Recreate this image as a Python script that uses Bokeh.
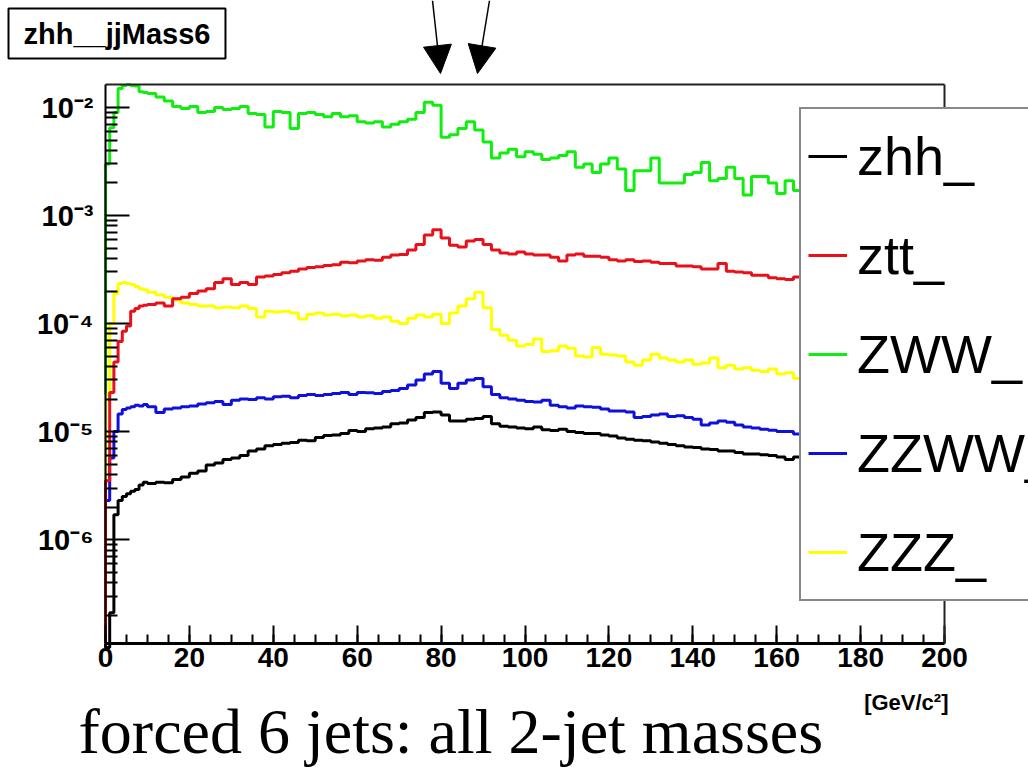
import math
from bokeh.plotting import figure
from bokeh.models import (Range1d, FixedTicker, SingleIntervalTicker, Legend, LegendItem,
                          Label, Arrow, NormalHead, LinearAxis, LogAxis)
from bokeh.embed import file_html
from bokeh.resources import INLINE

# ---------------- data ----------------
# bin edges [GeV/c^2]: 1 GeV bins up to 10, then 2 GeV bins up to 200
EDGES = list(range(0, 11)) + list(range(12, 201, 2))

series_names = ["zhh_", "ztt_", "ZWW_", "ZZWW_", "ZZZ_"]

zhh = [1.0e-7, 2.1e-7, 1.7e-6, 2.3e-6, 2.5e-6, 2.65e-6, 2.8e-6, 2.9e-6, 3.2e-6, 3.4e-6,
       3.3e-6, 3.4e-6, 3.35e-6, 3.6e-6, 3.8e-6, 4.1e-6, 4.3e-6, 4.9e-6, 5.1e-6, 5.5e-6,
       5.7e-6, 6.0e-6, 6.6e-6, 6.9e-6, 7.4e-6, 7.6e-6, 7.8e-6, 7.9e-6, 8.3e-6, 8.2e-6,
       8.8e-6, 9.2e-6, 9.3e-6, 9.6e-6, 1.02e-5, 1.0e-5, 1.06e-5, 1.08e-5, 1.1e-5, 1.18e-5,
       1.2e-5, 1.28e-5, 1.35e-5, 1.5e-5, 1.52e-5, 1.42e-5, 1.25e-5, 1.25e-5, 1.3e-5, 1.32e-5,
       1.38e-5, 1.18e-5, 1.12e-5, 1.1e-5, 1.08e-5, 1.06e-5, 1.1e-5, 1.04e-5, 1.02e-5, 1.05e-5,
       1.0e-5, 9.8e-6, 9.6e-6, 9.6e-6, 9.3e-6, 9.1e-6, 8.7e-6, 8.5e-6, 8.3e-6, 8.2e-6,
       8.0e-6, 7.8e-6, 7.6e-6, 7.4e-6, 7.2e-6, 7.1e-6, 6.9e-6, 6.8e-6, 6.6e-6, 6.6e-6,
       6.4e-6, 6.2e-6, 6.2e-6, 6.1e-6, 6.0e-6, 5.8e-6, 5.5e-6, 5.8e-6, 5.6e-6, 5.5e-6,
       5.4e-6, 5.2e-6, 5.1e-6, 5.0e-6, 4.9e-6, 4.8e-6, 4.6e-6, 4.5e-6, 4.4e-6, 4.3e-6,
       4.2e-6, 4.1e-6, 4.0e-6, 3.9e-6, 3.8e-6]

ztt = [3.5e-6, 2.3e-5, 4.4e-5, 6.8e-5, 8.5e-5, 9.5e-5, 1.3e-4, 1.38e-4, 1.45e-4, 1.48e-4,
       1.5e-4, 1.55e-4, 1.45e-4, 1.7e-4, 1.75e-4, 1.9e-4, 2.0e-4, 2.1e-4, 2.4e-4, 2.6e-4,
       2.3e-4, 2.4e-4, 2.3e-4, 2.7e-4, 2.75e-4, 2.85e-4, 2.95e-4, 3.05e-4, 3.2e-4, 3.3e-4,
       3.35e-4, 3.45e-4, 3.5e-4, 3.7e-4, 3.65e-4, 3.8e-4, 3.9e-4, 3.85e-4, 4.1e-4, 4.3e-4,
       4.35e-4, 4.8e-4, 5.4e-4, 6.6e-4, 7.4e-4, 6.2e-4, 5.3e-4, 5.1e-4, 5.8e-4, 6.0e-4,
       5.4e-4, 4.8e-4, 4.5e-4, 4.4e-4, 4.6e-4, 4.4e-4, 4.3e-4, 4.3e-4, 4.1e-4, 3.8e-4,
       4.3e-4, 4.4e-4, 4.2e-4, 4.2e-4, 4.1e-4, 3.9e-4, 3.8e-4, 3.9e-4, 3.75e-4, 3.8e-4,
       3.7e-4, 3.6e-4, 3.6e-4, 3.4e-4, 3.4e-4, 3.35e-4, 3.2e-4, 3.2e-4, 3.6e-4, 3.05e-4,
       3.0e-4, 2.95e-4, 2.8e-4, 2.8e-4, 2.65e-4, 2.6e-4, 2.55e-4, 2.7e-4, 2.6e-4, 2.5e-4,
       2.5e-4, 2.4e-4, 2.35e-4, 2.3e-4, 2.25e-4, 2.2e-4, 2.1e-4, 2.1e-4, 2.0e-4, 1.95e-4,
       1.9e-4, 1.85e-4, 1.8e-4, 1.75e-4, 1.7e-4]

zww = [3.0e-3, 6.5e-3, 9.0e-3, 1.5e-2, 1.6e-2, 1.62e-2, 1.6e-2, 1.58e-2, 1.4e-2, 1.38e-2,
       1.35e-2, 1.25e-2, 1.15e-2, 1.02e-2, 9.8e-3, 1.02e-2, 9.0e-3, 9.2e-3, 1.0e-2, 9.6e-3,
       9.8e-3, 1.02e-2, 8.8e-3, 8.6e-3, 6.6e-3, 9.2e-3, 9.0e-3, 6.4e-3, 8.8e-3, 9.0e-3,
       8.6e-3, 8.2e-3, 8.8e-3, 8.2e-3, 8.4e-3, 7.4e-3, 7.2e-3, 7.4e-3, 6.6e-3, 7.0e-3,
       7.4e-3, 7.8e-3, 9.0e-3, 1.12e-2, 1.05e-2, 5.3e-3, 5.6e-3, 6.4e-3, 7.4e-3, 6.2e-3,
       4.8e-3, 3.4e-3, 3.8e-3, 4.1e-3, 3.5e-3, 3.9e-3, 3.7e-3, 3.3e-3, 3.4e-3, 3.6e-3,
       3.9e-3, 2.8e-3, 3.0e-3, 2.5e-3, 3.0e-3, 3.4e-3, 2.7e-3, 1.7e-3, 2.6e-3, 2.6e-3,
       3.4e-3, 2.0e-3, 2.0e-3, 2.0e-3, 2.4e-3, 2.5e-3, 3.1e-3, 2.1e-3, 2.2e-3, 2.8e-3,
       2.2e-3, 1.55e-3, 2.3e-3, 2.3e-3, 2.0e-3, 1.6e-3, 2.1e-3, 1.7e-3, 1.9e-3, 1.7e-3,
       2.0e-3, 1.6e-3, 1.8e-3, 1.5e-3, 1.7e-3, 1.6e-3, 1.4e-3, 1.6e-3, 1.5e-3, 1.3e-3,
       1.4e-3, 1.3e-3, 1.2e-3, 1.3e-3, 1.2e-3]

zzww = [2.3e-6, 5.7e-6, 1.0e-5, 1.45e-5, 1.6e-5, 1.65e-5, 1.7e-5, 1.75e-5, 1.72e-5, 1.78e-5,
        1.7e-5, 1.5e-5, 1.62e-5, 1.65e-5, 1.7e-5, 1.72e-5, 1.8e-5, 1.85e-5, 1.9e-5, 1.78e-5,
        1.95e-5, 2.0e-5, 1.98e-5, 2.05e-5, 2.0e-5, 2.1e-5, 2.12e-5, 2.05e-5, 2.15e-5, 2.2e-5,
        2.15e-5, 2.2e-5, 2.25e-5, 2.3e-5, 2.2e-5, 2.3e-5, 2.28e-5, 2.25e-5, 2.35e-5, 2.4e-5,
        2.5e-5, 2.7e-5, 3.0e-5, 3.4e-5, 3.6e-5, 2.8e-5, 2.5e-5, 2.8e-5, 3.0e-5, 3.1e-5,
        2.6e-5, 2.2e-5, 2.05e-5, 2.0e-5, 1.95e-5, 1.9e-5, 1.88e-5, 1.95e-5, 1.75e-5, 1.7e-5,
        1.65e-5, 1.72e-5, 1.7e-5, 1.68e-5, 1.62e-5, 1.55e-5, 1.55e-5, 1.52e-5, 1.35e-5, 1.38e-5,
        1.42e-5, 1.45e-5, 1.38e-5, 1.4e-5, 1.35e-5, 1.3e-5, 1.15e-5, 1.2e-5, 1.25e-5, 1.22e-5,
        1.15e-5, 1.1e-5, 1.08e-5, 1.05e-5, 1.03e-5, 1.0e-5, 1.0e-5, 9.5e-6, 9.6e-6, 9.3e-6,
        9.1e-6, 8.9e-6, 8.6e-6, 8.4e-6, 8.2e-6, 8.0e-6, 7.8e-6, 7.6e-6, 7.4e-6, 7.2e-6,
        7.0e-6, 6.9e-6, 6.7e-6, 6.5e-6, 6.3e-6]

zzz = [2.2e-5, 1.0e-4, 1.9e-4, 2.35e-4, 2.4e-4, 2.35e-4, 2.3e-4, 2.2e-4, 2.1e-4, 2.05e-4,
       1.95e-4, 1.85e-4, 1.75e-4, 1.65e-4, 1.55e-4, 1.5e-4, 1.45e-4, 1.45e-4, 1.4e-4, 1.42e-4,
       1.4e-4, 1.45e-4, 1.38e-4, 1.15e-4, 1.3e-4, 1.28e-4, 1.3e-4, 1.25e-4, 1.1e-4, 1.22e-4,
       1.25e-4, 1.2e-4, 1.22e-4, 1.18e-4, 1.2e-4, 1.15e-4, 1.18e-4, 1.12e-4, 1.15e-4, 1.05e-4,
       1.0e-4, 1.12e-4, 1.2e-4, 1.15e-4, 1.22e-4, 1.0e-4, 1.25e-4, 1.45e-4, 1.7e-4, 1.95e-4,
       1.4e-4, 8.8e-5, 7.8e-5, 7.0e-5, 6.2e-5, 6.4e-5, 7.2e-5, 5.5e-5, 5.6e-5, 6.2e-5,
       5.9e-5, 5.0e-5, 4.9e-5, 6.0e-5, 5.2e-5, 5.1e-5, 5.0e-5, 4.4e-5, 4.1e-5, 4.6e-5,
       5.2e-5, 4.8e-5, 4.6e-5, 4.4e-5, 4.6e-5, 4.2e-5, 4.3e-5, 4.8e-5, 3.9e-5, 4.1e-5,
       3.8e-5, 3.9e-5, 3.7e-5, 3.6e-5, 3.8e-5, 3.4e-5, 3.5e-5, 3.1e-5, 3.2e-5, 3.1e-5,
       3.0e-5, 2.9e-5, 2.9e-5, 2.8e-5, 2.7e-5, 2.7e-5, 2.6e-5, 2.5e-5, 2.5e-5, 2.4e-5,
       2.3e-5, 2.3e-5, 2.2e-5, 2.1e-5, 2.1e-5]

X_MIN, X_MAX = 0, 200
X_TICK_INTERVAL = 20
Y_LO, Y_HI = 1.09e-7, 1.633e-2
Y_DECADES = [1e-6, 1e-5, 1e-4, 1e-3, 1e-2]
Y_LABELS = ["10\u207b\u2076", "10\u207b\u2075", "10\u207b\u2074", "10\u207b\u00b3", "10\u207b\u00b2"]

# ---------------- geometry ----------------
W, H = 1028, 771
BOX_L, BOX_R, BOX_T, BOX_B = 105, 944, 84, 643   # pixel extent of the histogram box
SANS = "Liberation Sans"

# the plotting area covers the whole window; the histogram box is drawn with
# axes fixed at the box edges, so the view ranges extend past the box
px_per_x = (BOX_R - BOX_L) / (X_MAX - X_MIN)
x_view = (X_MIN - BOX_L / px_per_x, X_MIN + (W - BOX_L) / px_per_x)
ly_lo, ly_hi = math.log10(Y_LO), math.log10(Y_HI)
px_per_dec = (BOX_B - BOX_T) / (ly_hi - ly_lo)
y_view = (10 ** (ly_lo - (H - BOX_B) / px_per_dec), 10 ** (ly_hi + BOX_T / px_per_dec))

p = figure(width=W, height=H, x_range=Range1d(*x_view), y_range=Range1d(*y_view),
           y_axis_type="log", output_backend="svg", toolbar_location=None,
           min_border=0, min_border_left=0, min_border_right=0,
           min_border_top=0, min_border_bottom=0)
p.background_fill_color = "white"
p.border_fill_color = "white"
p.xgrid.visible = False
p.ygrid.visible = False
p.outline_line_color = None

# main axes, pinned to the box edges
p.xaxis.fixed_location = Y_LO
p.xaxis.bounds = (X_MIN, X_MAX)
p.xaxis.ticker = SingleIntervalTicker(interval=X_TICK_INTERVAL, num_minor_ticks=4)
p.yaxis.fixed_location = X_MIN
p.yaxis.bounds = (Y_LO, Y_HI)
minor_y = [m * 10.0 ** e for e in range(-7, -1) for m in range(2, 10)]
minor_y = [v for v in minor_y if Y_LO <= v <= Y_HI]
p.yaxis.ticker = FixedTicker(ticks=Y_DECADES, minor_ticks=minor_y)
p.yaxis.major_label_overrides = {v: s for v, s in zip(Y_DECADES, Y_LABELS)}

for ax in (p.xaxis[0], p.yaxis[0]):
    ax.major_tick_out = 0
    ax.minor_tick_out = 0
    ax.major_tick_line_color = "black"
    ax.minor_tick_line_color = "black"
    ax.major_tick_line_width = 2
    ax.minor_tick_line_width = 2
    ax.major_label_text_font = SANS
    ax.major_label_text_font_style = "bold"
    ax.major_label_text_color = "black"
    ax.axis_line_color = "black"

p.xaxis.major_tick_in = 18
p.xaxis.minor_tick_in = 9
p.xaxis.axis_line_width = 3
p.xaxis.major_label_text_font_size = "28px"
p.xaxis.major_label_standoff = 4

p.yaxis.major_tick_in = 24
p.yaxis.minor_tick_in = 12
p.yaxis.axis_line_width = 2
p.yaxis.major_label_text_font_size = "29px"
p.yaxis.major_label_standoff = 12

# top and right edges of the histogram box (axes without ticks)
top = LinearAxis(fixed_location=Y_HI, bounds=(X_MIN, X_MAX), ticker=FixedTicker(ticks=[]),
                 major_tick_in=0, major_tick_out=0, minor_tick_in=0, minor_tick_out=0,
                 axis_line_color="#222222", axis_line_width=2)
p.add_layout(top, "above")
right = LogAxis(fixed_location=X_MAX, bounds=(Y_LO, Y_HI), ticker=FixedTicker(ticks=[]),
                major_tick_in=0, major_tick_out=0, minor_tick_in=0, minor_tick_out=0,
                axis_line_color="#222222", axis_line_width=2)
p.add_layout(right, "right")

# histograms
def stairs(vals):
    xs = [EDGES[0]] + EDGES
    ys = [Y_LO] + list(vals) + [vals[-1]]
    return xs, ys

colors = {"zhh_": "#000000", "ztt_": "#e8101a", "ZWW_": "#10ee10", "ZZWW_": "#1010dd", "ZZZ_": "#ffff00"}
data = {"zhh_": zhh, "ztt_": ztt, "ZWW_": zww, "ZZWW_": zzww, "ZZZ_": zzz}
draw_order = ["zhh_", "ZWW_", "ZZWW_", "ZZZ_", "ztt_"]
renderers = {}
for name in draw_order:
    xs, ys = stairs(data[name])
    renderers[name] = p.step(xs, ys, mode="after", line_width=3, line_color=colors[name])

legend = Legend(items=[LegendItem(label=n, renderers=[renderers[n]]) for n in series_names],
                location=(799, H - 601))
legend.label_text_font = SANS
legend.label_text_font_size = "54px"
legend.label_text_color = "black"
legend.glyph_width = 39
legend.glyph_height = 80
legend.label_height = 80
legend.spacing = 19
legend.padding = 7
legend.margin = 0
legend.label_standoff = 10
legend.border_line_color = "#111111"
legend.border_line_width = 2
legend.background_fill_color = "white"
legend.background_fill_alpha = 1.0
p.add_layout(legend)

# title box
title = Label(x=8, y=8, x_units="canvas", y_units="canvas", text="zhh__jjMass6",
              text_font=SANS, text_font_style="bold", text_font_size="29px",
              text_align="left", text_baseline="top", text_color="black",
              border_line_color="black", border_line_width=2,
              background_fill_color="white", padding=(15, 15, 9, 9))
p.add_layout(title)

# arrows marking the W and Z peaks
for xs0, xe0 in ((432, 440), (489, 477)):
    p.add_layout(Arrow(end=NormalHead(size=28, fill_color="black", line_color="black"),
                       x_start=xs0, y_start=0, x_end=xe0, y_end=73,
                       start_units="canvas", end_units="canvas",
                       line_color="black", line_width=1.5))

# unit label and caption
p.add_layout(Label(x=948, y=702, x_units="canvas", y_units="canvas", text="[GeV/c\u00b2]",
                   text_font=SANS, text_font_style="bold", text_font_size="22px",
                   text_align="right", text_baseline="alphabetic", text_color="black"))
p.add_layout(Label(x=78, y=731, x_units="canvas", y_units="canvas",
                   text="forced 6 jets: all 2-jet masses",
                   text_font="Liberation Serif", text_font_size="64px",
                   text_align="left", text_baseline="alphabetic", text_color="black"))

open("out.html", "w").write(file_html(p, INLINE))
